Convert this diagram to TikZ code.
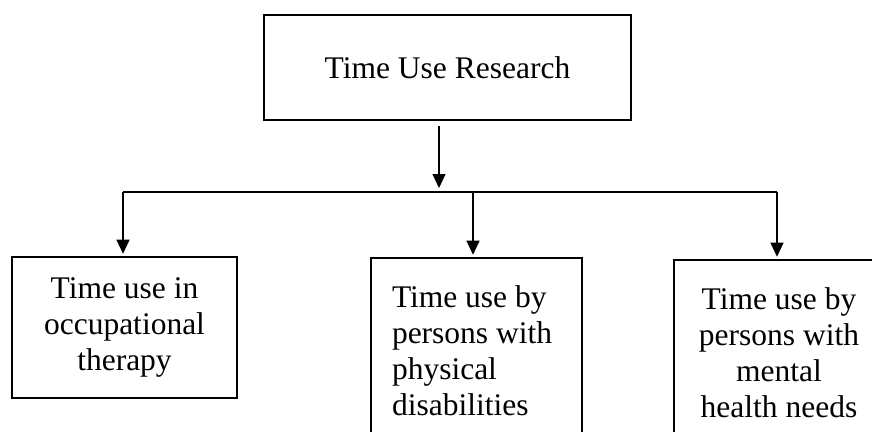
\documentclass[tikz,border=0pt]{standalone}
\usepackage{fontspec}
\setmainfont{Liberation Serif}
\usetikzlibrary{arrows.meta}

\begin{document}
\begin{tikzpicture}[
  x=1pt, y=-1pt,
  box/.style = {draw, line width=2.6pt, align=center, inner sep=0pt,
                font=\fontsize{31.5}{36}\selectfont},
  arr/.style = {-{Triangle[length=14pt,width=13pt]}, line width=1.2pt},
  bus/.style = {line width=1.2pt},
]
  \useasboundingbox (0,0) rectangle (872,431);
  \clip (0,0) rectangle (872,431);
  \node[box, minimum width=367pt, minimum height=105pt] (root) at (447.5,67.5)
    {Time Use Research};
  \node[box, minimum width=225pt, minimum height=141pt] (occ) at (124.5,327.5)
    {Time use in\\occupational\\therapy};
  \node[box, minimum width=211pt, minimum height=186pt, text width=169pt,
        align=flush left] (phys) at (476.5,351)
    {Time use by\\persons with\\physical\\disabilities};
  \node[box, minimum width=210pt, minimum height=186pt] (ment) at (779,353)
    {Time use by\\persons with\\mental\\health needs};
  % branching line
  \coordinate (hub)  at (439,192);
  \coordinate (busL) at (123,192);
  \coordinate (busM) at (473,192);
  \coordinate (busR) at (777,192);
  \draw[bus] (busL) -- (busR);
  \draw[arr] ([yshift=-5pt]root.south -| hub) -- ([yshift=4pt]hub);
  \draw[arr] (busL) -- ([yshift=2pt]occ.north -| busL);
  \draw[arr] (busM) -- ([yshift=2pt]phys.north -| busM);
  \draw[arr] (busR) -- ([yshift=2pt]ment.north -| busR);
\end{tikzpicture}
\end{document}
